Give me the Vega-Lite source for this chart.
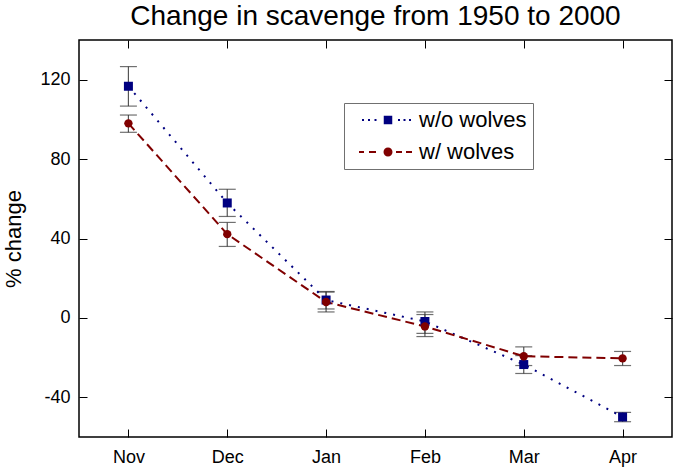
{
  "$schema": "https://vega.github.io/schema/vega-lite/v6.json",
  "width": 593,
  "height": 397,
  "autosize": {"type": "none"},
  "padding": {"left": 79, "top": 40, "right": 1, "bottom": 31},
  "config": {
    "font": "Liberation Sans",
    "view": {"stroke": "#000", "strokeWidth": 1.5},
    "axis": {"grid": false, "domain": false, "tickColor": "#000", "tickWidth": 1, "labelColor": "#000", "titleColor": "#000", "labelFont": "Liberation Sans", "titleFont": "Liberation Sans"},
    "legend": {
      "title": null, "orient": "none", "legendX": 265, "legendY": 63, "padding": 6, "strokeColor": "#707070", "fillColor": "#fff",
      "labelFontSize": 22, "labelColor": "#000", "labelFont": "Liberation Sans", "rowPadding": 10, "symbolSize": 100, "symbolOffset": 27, "labelOffset": 20, "symbolStrokeWidth": 0
    }
  },
  "title": {"text": "Change in scavenge from 1950 to 2000", "fontSize": 28, "fontWeight": "normal", "color": "#000", "anchor": "middle", "offset": -13, "baseline": "alphabetic", "font": "Liberation Sans"},
  "data": {"values": [
    {"month": "Nov", "series": "w/o wolves", "value": 116.7, "lo": 106.7, "hi": 126.6},
    {"month": "Dec", "series": "w/o wolves", "value": 57.9, "lo": 51.1, "hi": 64.8},
    {"month": "Jan", "series": "w/o wolves", "value": 9, "lo": 4.5, "hi": 13.3},
    {"month": "Feb", "series": "w/o wolves", "value": -1.8, "lo": -7.8, "hi": 3},
    {"month": "Mar", "series": "w/o wolves", "value": -23.5, "lo": -28, "hi": -19},
    {"month": "Apr", "series": "w/o wolves", "value": -49.9, "lo": -52.3, "hi": -47.6},
    {"month": "Nov", "series": "w/ wolves", "value": 98, "lo": 93.5, "hi": 102.2},
    {"month": "Dec", "series": "w/ wolves", "value": 42.2, "lo": 36, "hi": 48.1},
    {"month": "Jan", "series": "w/ wolves", "value": 8, "lo": 3, "hi": 13},
    {"month": "Feb", "series": "w/ wolves", "value": -4.3, "lo": -9.4, "hi": 1.7},
    {"month": "Mar", "series": "w/ wolves", "value": -19.3, "lo": -24, "hi": -14.6},
    {"month": "Apr", "series": "w/ wolves", "value": -20.4, "lo": -24, "hi": -16.9}
  ]},
  "layer": [
    {
      "mark": {"type": "rule", "color": "#555", "strokeWidth": 1.2},
      "encoding": {
        "x": {"field": "month", "type": "ordinal", "sort": ["Nov", "Dec", "Jan", "Feb", "Mar", "Apr"], "scale": {"type": "point", "padding": 0.5}, "axis": {"orient": "top", "labels": false, "tickSize": -8, "title": null}},
        "y": {"field": "lo", "type": "quantitative", "scale": {"domain": [-60, 140], "nice": false, "zero": false}, "axis": {"orient": "right", "labels": false, "tickSize": -8, "title": null, "values": [-40, 0, 40, 80, 120]}},
        "y2": {"field": "hi"}
      }
    },
    {
      "mark": {"type": "tick", "color": "#333", "thickness": 1.2, "size": 17},
      "encoding": {
        "x": {"field": "month", "type": "ordinal", "sort": ["Nov", "Dec", "Jan", "Feb", "Mar", "Apr"], "axis": null},
        "y": {"field": "lo", "type": "quantitative", "axis": null}
      }
    },
    {
      "mark": {"type": "tick", "color": "#333", "thickness": 1.2, "size": 17},
      "encoding": {
        "x": {"field": "month", "type": "ordinal", "sort": ["Nov", "Dec", "Jan", "Feb", "Mar", "Apr"], "axis": null},
        "y": {"field": "hi", "type": "quantitative", "axis": null}
      }
    },
    {
      "mark": {"type": "line", "strokeWidth": 2},
      "encoding": {
        "x": {"field": "month", "type": "ordinal", "sort": ["Nov", "Dec", "Jan", "Feb", "Mar", "Apr"], "axis": {"orient": "bottom", "tickSize": -8, "labelPadding": 33, "labelBaseline": "alphabetic", "labelFontSize": 18, "labelAngle": 0, "title": null}},
        "y": {"field": "value", "type": "quantitative", "axis": {"orient": "left", "tickSize": -8, "labelPadding": 17, "labelFontSize": 18, "values": [-40, 0, 40, 80, 120], "labelExpr": "replace(datum.label, '\u2212', '-')", "title": "% change", "titleFontSize": 22, "titleFontWeight": "normal", "titleX": -58.5, "titleY": 198.5, "titleAngle": -90, "titleAlign": "center", "titleBaseline": "alphabetic"}},
        "color": {"field": "series", "type": "nominal", "scale": {"domain": ["w/o wolves", "w/ wolves"], "range": ["#000080", "#800000"]},
          "legend": {
            "symbolType": {"expr": "datum.value === 'w/o wolves' ? 'M-0.85,-0.85H0.85V0.85H-0.85Z M-5.2,-0.2H-4.8V0.2H-5.2Z M-4,-0.2H-3.6V0.2H-4Z M-2.7,-0.2H-2.3V0.2H-2.7Z M2,-0.2H2.4V0.2H2Z M3.1,-0.2H3.5V0.2H3.1Z M4.2,-0.2H4.6V0.2H4.2Z' : 'M0.9,0A0.9,0.9,0,1,1,-0.9,0A0.9,0.9,0,1,1,0.9,0Z M-5.8,-0.2H-4.8V0.2H-5.8Z M-3.8,-0.2H-2.4V0.2H-3.8Z M1.6,-0.2H2.8V0.2H1.6Z M3.6,-0.2H4.8V0.2H3.6Z'"},
            "symbolFillColor": {"expr": "datum.value === 'w/o wolves' ? '#000080' : '#800000'"},
            "encode": {"symbols": {"update": {
              "shape": {"signal": "datum.value === 'w/o wolves' ? 'M-0.85,-0.85H0.85V0.85H-0.85Z M-5.2,-0.2H-4.8V0.2H-5.2Z M-4,-0.2H-3.6V0.2H-4Z M-2.7,-0.2H-2.3V0.2H-2.7Z M2,-0.2H2.4V0.2H2Z M3.1,-0.2H3.5V0.2H3.1Z M4.2,-0.2H4.6V0.2H4.2Z' : 'M0.9,0A0.9,0.9,0,1,1,-0.9,0A0.9,0.9,0,1,1,0.9,0Z M-5.8,-0.2H-4.8V0.2H-5.8Z M-3.8,-0.2H-2.4V0.2H-3.8Z M1.6,-0.2H2.8V0.2H1.6Z M3.6,-0.2H4.8V0.2H3.6Z'"},
              "fill": {"signal": "datum.value === 'w/o wolves' ? '#000080' : '#800000'"},
              "opacity": {"value": 1},
              "strokeWidth": {"value": 0}
            }}}
          }},
        "strokeDash": {"field": "series", "type": "nominal", "scale": {"domain": ["w/o wolves", "w/ wolves"], "range": [[2, 7], [9, 5]]}, "legend": null}
      }
    },
    {
      "mark": {"type": "point", "filled": true, "opacity": 1, "shape": "square", "size": 81},
      "transform": [{"filter": "datum.series === 'w/o wolves'"}],
      "encoding": {
        "x": {"field": "month", "type": "ordinal", "sort": ["Nov", "Dec", "Jan", "Feb", "Mar", "Apr"], "axis": null},
        "y": {"field": "value", "type": "quantitative", "axis": null},
        "color": {"field": "series", "type": "nominal"}
      }
    },
    {
      "mark": {"type": "point", "filled": true, "opacity": 1, "shape": "circle", "size": 70},
      "transform": [{"filter": "datum.series === 'w/ wolves'"}],
      "encoding": {
        "x": {"field": "month", "type": "ordinal", "sort": ["Nov", "Dec", "Jan", "Feb", "Mar", "Apr"], "axis": null},
        "y": {"field": "value", "type": "quantitative", "axis": null},
        "color": {"field": "series", "type": "nominal"}
      }
    }
  ],
  "resolve": {"axis": {"x": "independent", "y": "independent"}}
}
